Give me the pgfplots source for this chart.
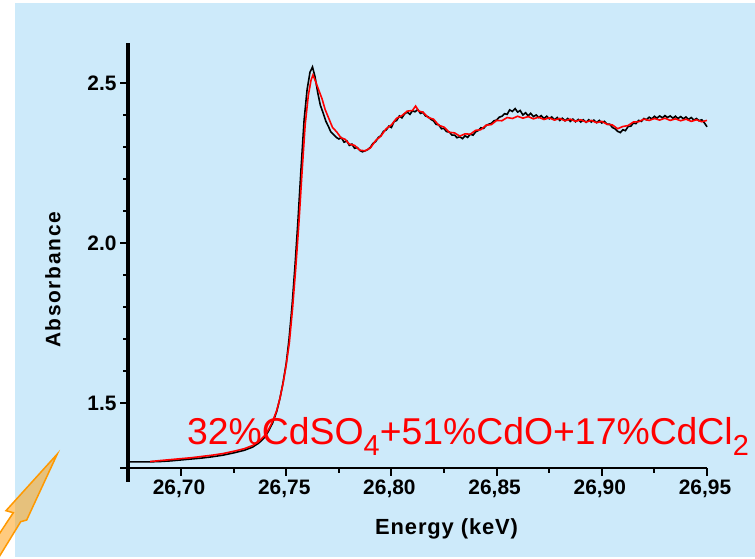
\documentclass[border=0pt]{standalone}
\usepackage{pgfplots}
\pgfplotsset{compat=1.18}
\usepackage{fontspec}
\setmainfont{Liberation Sans}
\definecolor{bgblue}{RGB}{205,234,250}
\definecolor{arroworange}{RGB}{255,153,0}
\pgfplotstableread{
E A
26.6748 1.317
26.6850 1.317
26.6900 1.318
26.6950 1.320
26.7000 1.323
26.7050 1.326
26.7100 1.329
26.7150 1.333
26.7200 1.338
26.7250 1.345
26.7300 1.353
26.7340 1.363
26.7370 1.376
26.7395 1.392
26.7415 1.412
26.7435 1.438
26.7455 1.475
26.7470 1.515
26.7485 1.565
26.7500 1.625
26.7513 1.698
26.7528 1.807
26.7542 1.932
26.7556 2.073
26.7570 2.229
26.7585 2.385
26.7599 2.479
26.7613 2.535
26.7625 2.551
26.7637 2.520
26.7650 2.470
26.7662 2.432
26.7675 2.408
26.7688 2.382
26.7700 2.366
26.7712 2.348
26.7725 2.340
26.7738 2.331
26.7750 2.326
26.7762 2.330
26.7775 2.316
26.7788 2.320
26.7800 2.306
26.7812 2.310
26.7825 2.297
26.7838 2.299
26.7850 2.290
26.7862 2.286
26.7875 2.289
26.7888 2.293
26.7900 2.300
26.7912 2.312
26.7925 2.318
26.7938 2.331
26.7950 2.336
26.7962 2.350
26.7975 2.354
26.7988 2.366
26.8000 2.362
26.8012 2.380
26.8025 2.384
26.8038 2.398
26.8050 2.392
26.8062 2.404
26.8075 2.410
26.8088 2.403
26.8100 2.414
26.8112 2.411
26.8125 2.418
26.8138 2.406
26.8150 2.409
26.8162 2.398
26.8175 2.395
26.8188 2.387
26.8200 2.383
26.8212 2.372
26.8225 2.370
26.8238 2.358
26.8250 2.359
26.8262 2.349
26.8275 2.348
26.8288 2.338
26.8300 2.338
26.8312 2.330
26.8325 2.333
26.8338 2.327
26.8350 2.336
26.8362 2.331
26.8375 2.341
26.8388 2.338
26.8400 2.348
26.8412 2.352
26.8425 2.361
26.8438 2.359
26.8450 2.368
26.8462 2.372
26.8475 2.375
26.8488 2.383
26.8500 2.385
26.8512 2.394
26.8525 2.397
26.8538 2.405
26.8550 2.403
26.8562 2.417
26.8575 2.412
26.8588 2.421
26.8600 2.410
26.8612 2.415
26.8625 2.401
26.8638 2.408
26.8650 2.398
26.8662 2.406
26.8675 2.396
26.8688 2.401
26.8700 2.393
26.8712 2.399
26.8725 2.390
26.8738 2.397
26.8750 2.389
26.8762 2.395
26.8775 2.386
26.8788 2.393
26.8800 2.384
26.8812 2.391
26.8825 2.383
26.8838 2.390
26.8850 2.381
26.8862 2.388
26.8875 2.380
26.8888 2.387
26.8900 2.379
26.8912 2.386
26.8925 2.378
26.8938 2.386
26.8950 2.379
26.8962 2.385
26.8975 2.377
26.8988 2.384
26.9000 2.376
26.9012 2.381
26.9025 2.372
26.9038 2.372
26.9050 2.362
26.9062 2.358
26.9075 2.350
26.9088 2.346
26.9100 2.355
26.9112 2.352
26.9125 2.365
26.9138 2.366
26.9150 2.376
26.9162 2.374
26.9175 2.384
26.9188 2.381
26.9200 2.390
26.9212 2.386
26.9225 2.394
26.9238 2.389
26.9250 2.397
26.9262 2.391
26.9275 2.398
26.9288 2.392
26.9300 2.399
26.9312 2.393
26.9325 2.398
26.9338 2.391
26.9350 2.397
26.9362 2.390
26.9375 2.396
26.9388 2.389
26.9400 2.395
26.9412 2.387
26.9425 2.393
26.9438 2.385
26.9450 2.390
26.9462 2.383
26.9475 2.386
26.9488 2.376
26.9500 2.364
}\blackdata
\pgfplotstableread{
E A
26.6853 1.318
26.6900 1.321
26.6950 1.324
26.7000 1.327
26.7050 1.330
26.7100 1.334
26.7150 1.338
26.7200 1.343
26.7250 1.350
26.7300 1.358
26.7340 1.368
26.7370 1.381
26.7395 1.397
26.7415 1.417
26.7435 1.443
26.7455 1.478
26.7470 1.515
26.7485 1.562
26.7500 1.620
26.7515 1.690
26.7530 1.795
26.7545 1.920
26.7560 2.060
26.7575 2.220
26.7590 2.370
26.7605 2.462
26.7618 2.510
26.7627 2.526
26.7640 2.505
26.7655 2.478
26.7670 2.452
26.7685 2.418
26.7700 2.394
26.7720 2.362
26.7740 2.348
26.7760 2.330
26.7780 2.325
26.7800 2.310
26.7825 2.306
26.7850 2.291
26.7875 2.289
26.7900 2.298
26.7925 2.321
26.7950 2.335
26.7975 2.358
26.8000 2.370
26.8025 2.391
26.8050 2.399
26.8075 2.413
26.8100 2.415
26.8115 2.429
26.8130 2.413
26.8150 2.410
26.8175 2.393
26.8200 2.388
26.8225 2.369
26.8250 2.363
26.8275 2.347
26.8300 2.345
26.8325 2.335
26.8350 2.342
26.8375 2.341
26.8400 2.353
26.8425 2.355
26.8450 2.369
26.8475 2.371
26.8500 2.384
26.8525 2.383
26.8550 2.393
26.8575 2.390
26.8600 2.397
26.8625 2.391
26.8650 2.396
26.8675 2.389
26.8700 2.394
26.8725 2.387
26.8750 2.392
26.8775 2.385
26.8800 2.390
26.8825 2.383
26.8850 2.388
26.8875 2.381
26.8900 2.386
26.8925 2.379
26.8950 2.384
26.8975 2.377
26.9000 2.381
26.9025 2.372
26.9050 2.370
26.9075 2.358
26.9100 2.365
26.9125 2.368
26.9150 2.379
26.9175 2.380
26.9200 2.388
26.9225 2.384
26.9250 2.390
26.9275 2.385
26.9300 2.391
26.9325 2.384
26.9350 2.389
26.9375 2.383
26.9400 2.388
26.9425 2.381
26.9450 2.386
26.9475 2.380
26.9500 2.384
}\reddata
\begin{document}
\begin{tikzpicture}[x=1bp,y=1bp]
\useasboundingbox (0,0) rectangle (755,559);
\fill[white] (0,0) rectangle (755,559);
\fill[bgblue] (15,2) rectangle (755,556);
\begin{axis}[
  at={(128bp,91bp)}, anchor=south west,
  scale only axis, width=579bp, height=425bp,
  xmin=26.6748, xmax=26.95, ymin=1.2978, ymax=2.626,
  axis lines=left,
  axis line style={-, black},
  x axis line style={line width=2.5bp, shorten <=-8bp},
  y axis line style={line width=3.5bp, shorten <=-14bp},
  xtick={26.70,26.75,26.80,26.85,26.90,26.95},
  xticklabels={26{,}70,26{,}75,26{,}80,26{,}85,26{,}90,26{,}95},
  ytick={1.5,2.0,2.5},
  yticklabels={1.5,2.0,2.5},
  minor x tick num=1,
  minor y tick num=4,
  tick align=outside,
  major tick length=8bp,
  minor tick length=5bp,
  tick style={line width=2bp, black},
  ticklabel style={font=\fontsize{21}{21}\selectfont\bfseries},
  xticklabel style={xshift=-2bp},
  clip=false,
]
\addplot[black, line width=1.6bp] table[x=E,y=A] {\blackdata};
\addplot[red, line width=1.6bp] table[x=E,y=A] {\reddata};
\end{axis}
\node[font=\fontsize{21}{21}\selectfont\bfseries\addfontfeature{LetterSpace=8}, rotate=90] at (53,279) {Absorbance};
\node[anchor=base west, inner sep=0, font=\fontsize{22}{22}\selectfont\bfseries\addfontfeature{LetterSpace=4}] at (375,24) {Energy (keV)};
\node[anchor=base west, inner sep=0, text=red, font=\fontsize{37.5}{40}\selectfont] at (187,114)
  {32\%CdSO\raisebox{-11bp}{\fontsize{29}{29}\selectfont 4}+51\%CdO+17\%CdCl\raisebox{-11bp}{\fontsize{29}{29}\selectfont 2}};
\filldraw[draw=arroworange, fill=arroworange, fill opacity=0.5, line width=1.5bp, line join=miter]
  (57.3,105) -- (6,48.3) -- (13.3,46.3) -- (-20,-4) -- (-12,-16) -- (20.7,37.3) -- (26.7,39) -- cycle;
\end{tikzpicture}
\end{document}
